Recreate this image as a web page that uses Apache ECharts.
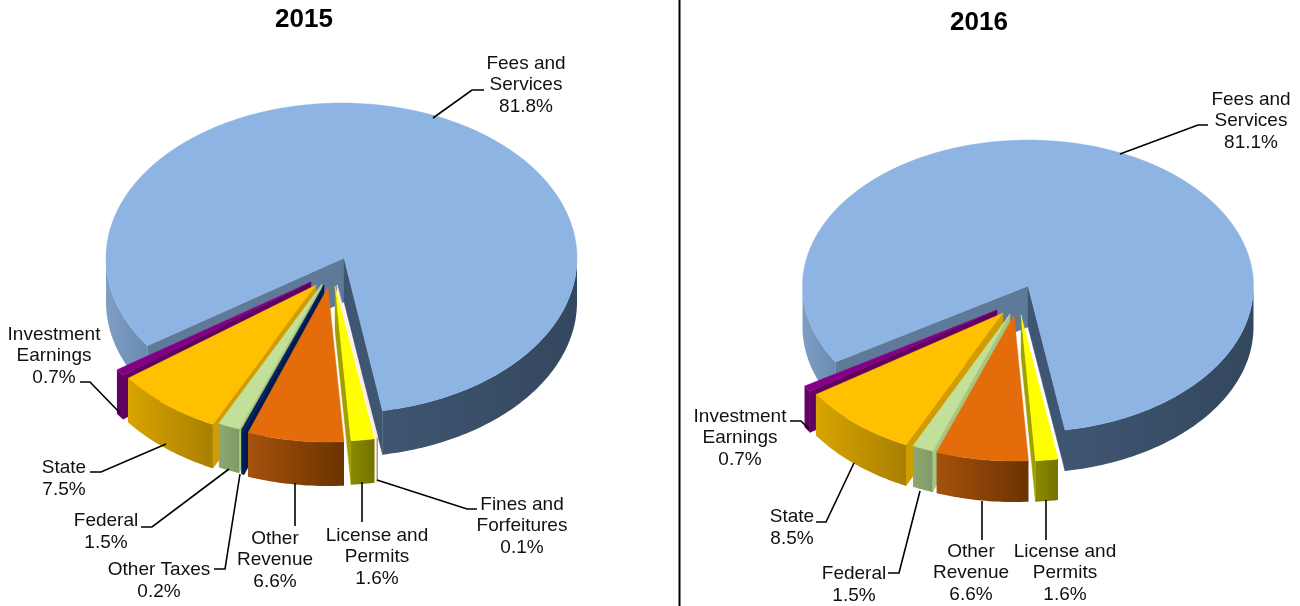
<!DOCTYPE html>
<html>
<head>
<meta charset="utf-8">
<style>html,body{margin:0;padding:0;background:#fff}#c{width:1300px;height:606px}</style>
<script src="https://cdn.jsdelivr.net/npm/echarts@6/dist/echarts.min.js"></script>
</head>
<body>
<div id="c"></div>
<script>
// ---- data ----
const categories2015 = ['Fees and\nServices','Fines and\nForfeitures','License and\nPermits','Other\nRevenue','Other Taxes','Federal','State','Investment\nEarnings'];
const values2015 = [81.8, 0.1, 1.6, 6.6, 0.2, 1.5, 7.5, 0.7];
const categories2016 = ['Fees and\nServices','License and\nPermits','Other\nRevenue','Federal','State','Investment\nEarnings'];
const values2016 = [81.1, 1.6, 6.6, 1.5, 8.5, 0.7];
const titles = ['2015', '2016'];

// ---- styling & layout ----
const STYLE = {
  'Fees and\nServices': {top:'#8db4e3', wall:['#3f5672','#33475e'], wallL:['#7f9ec4','#6a8bb2'], cutA:'#5f7a99', cutB:'#3f5672'},
  'Fines and\nForfeitures': {top:'#f6e4e0', wall:['#b89a8c','#a88a7a'], cutA:'#d8c4bc', cutB:'#fdf5f2'},
  'License and\nPermits': {top:'#ffff00', wall:['#8a8a00','#737300'], cutA:'#a0a000', cutB:'#a0a000'},
  'Other\nRevenue': {top:'#e46c0a', wall:['#a5520d','#6b3300'], cutA:'#b85808', cutB:'#b85808'},
  'Other Taxes': {top:'#002060', wall:['#002060','#001a50'], cutA:'#001a50', cutB:'#001a50'},
  'Federal': {top:'#c3e09a', wall:['#8fa873','#7f9a64'], cutA:'#a6c682', cutB:'#a6c682'},
  'State': {top:'#ffc000', wall:['#d9a400','#a87f00'], cutA:'#d09c00', cutB:'#d09c00'},
  'Investment\nEarnings': {top:'#860086', wall:['#6a006a','#5c005c'], cutA:'#60005f', cutB:'#60005f'}
};
const PIES = [
  {title:{x:304,y:20,size:26}, cx:341.5, cy:258, a:235.5, b:155, depth:44, start:145.5,
   names:categories2015, values:values2015,
   apexDx:{'Fees and\nServices':2.5},
   explode:{'Fees and\nServices':[0,0],'Fines and\nForfeitures':[-4.5,27],'License and\nPermits':[-6.5,28],'Other\nRevenue':[-13.5,29],'Other Taxes':[-17.5,27],'Federal':[-19.5,26],'State':[-25.5,27],'Investment\nEarnings':[-30.5,24]},
   labels:{
    'Fees and\nServices':{x:526,y:85,line:[[433,118],[472,90],[484,90]]},
    'Fines and\nForfeitures':{x:522,y:526,line:[[377,480],[467,509],[477,509]]},
    'License and\nPermits':{x:377,y:557,line:[[362,482],[362,522]]},
    'Other\nRevenue':{x:275,y:560,line:[[295,483],[295,526]]},
    'Other Taxes':{x:159,y:581,line:[[240,474],[225,569],[214,569]]},
    'Federal':{x:106,y:532,line:[[229,469],[152,527],[141,527]]},
    'State':{x:64,y:479,line:[[166,444],[101,472],[90,472]]},
    'Investment\nEarnings':{x:54,y:356,line:[[120,413],[90,382],[80,382]]}
   }},
  {title:{x:979,y:23,size:26}, cx:1028, cy:286, a:225.5, b:146, depth:41, start:148.6,
   names:categories2016, values:values2016,
   apexDx:{},
   explode:{'Fees and\nServices':[0,0],'License and\nPermits':[-7,29],'Other\nRevenue':[-14,29],'Federal':[-18,28],'State':[-25,27],'Investment\nEarnings':[-31,24]},
   labels:{
    'Fees and\nServices':{x:1251,y:121,line:[[1120,154],[1198,125],[1208,125]]},
    'License and\nPermits':{x:1065,y:573,line:[[1046,500],[1046,540]]},
    'Other\nRevenue':{x:971,y:573,line:[[982,501],[982,540]]},
    'Federal':{x:854,y:585,line:[[920,491],[899,573],[888,573]]},
    'State':{x:792,y:528,line:[[854,463],[826,522],[816,522]]},
    'Investment\nEarnings':{x:740,y:438,line:[[809,429],[801,421],[790,421]]}
   }}
];
const FONT = '19px "Liberation Sans", Arial, sans-serif';
const rad = d => d * Math.PI / 180;

function hGrad(c) {
  return {type:'linear', x:0, y:0, x2:1, y2:0, colorStops:[{offset:0,color:c[0]},{offset:1,color:c[1]}]};
}
function makeRenderer(pie, idx, t0) {
  return function (params, api) {
    const name = pie.names[idx];
    const sweep = api.value(0) * 3.6;
    const t1 = t0 + sweep;
    const off = pie.explode[name];
    const st = STYLE[name];
    const ox = pie.cx + off[0], oy = pie.cy + off[1];
    const P = (t, dz) => [ox + pie.a * Math.cos(rad(t)), oy + pie.b * Math.sin(rad(t)) + (dz || 0)];
    const arc = (a0, a1, dz) => {
      const n = Math.max(2, Math.ceil(a1 - a0)), out = [];
      for (let k = 0; k <= n; k++) out.push(P(a0 + (a1 - a0) * k / n, dz));
      return out;
    };
    const kids = [];
    const poly = (points, fill) => kids.push({type:'polygon', shape:{points},
      style:{fill, stroke:typeof fill === 'string' ? fill : 'none', lineWidth:typeof fill === 'string' ? 0.4 : 0}});
    const adx = pie.apexDx[name] || 0;
    const apex = [ox + adx, oy], apexB = [ox + adx, oy + pie.depth];
    if (Math.cos(rad(t0)) < 0) poly([apex, P(t0), P(t0, pie.depth), apexB], st.cutA);
    if (Math.cos(rad(t1)) > 0) poly([apex, P(t1), P(t1, pie.depth), apexB], st.cutB);
    for (let m = 0; m <= 1; m++) {
      const a0 = Math.max(t0, 360 * m), a1 = Math.min(t1, 180 + 360 * m);
      if (a1 > a0) {
        const colors = (st.wallL && (a0 + a1) / 2 > 90 && (a0 + a1) / 2 < 270) ? st.wallL : st.wall;
        poly(arc(a0, a1, 0).concat(arc(a0, a1, pie.depth).reverse()), hGrad(colors));
      }
    }
    poly([apex].concat(arc(t0, t1, 0)), st.top);
    return {type:'group', children:kids};
  };
}
function labelRenderer(pie) {
  return function (params, api) {
    const name = pie.names[params.dataIndex];
    const lab = pie.labels[name];
    return {type:'group', children:[
      {type:'polyline', shape:{points:lab.line}, style:{stroke:'#000', lineWidth:1.6, fill:'none'}},
      {type:'text', style:{x:lab.x, y:lab.y, text:name + '\n' + api.value(0).toFixed(1) + '%',
        font:FONT, fill:'#111', align:'center', verticalAlign:'middle', lineHeight:21.7}}
    ]};
  };
}

const series = [];
PIES.forEach(p => {
  let acc = p.start;
  p.values.forEach((v, i) => {
    const t0 = acc; acc += v * 3.6;
    const mid = ((t0 + acc) / 2) % 360;
    series.push({type:'custom', coordinateSystem:'none', clip:false, silent:true,
      name:p.names[i], z:2 + (200 - Math.abs(mid - 90)) / 10,
      renderItem:makeRenderer(p, i, t0), data:[{value:[v]}]});
  });
  series.push({type:'custom', coordinateSystem:'none', clip:false, silent:true, z:100,
    renderItem:labelRenderer(p), data:p.values.map(v => ({value:[v]}))});
});

const chart = echarts.init(document.getElementById('c'), null, {renderer:'canvas'});
chart.setOption({
  animation:false,
  backgroundColor:'#fff',
  title: PIES.map((p, i) => ({text:titles[i], left:p.title.x, top:p.title.y, padding:0, textAlign:'center', textVerticalAlign:'middle',
    textStyle:{fontFamily:'"Liberation Sans", Arial, sans-serif', fontWeight:'bold', fontSize:p.title.size, color:'#000'}})),
  graphic:[{type:'line', shape:{x1:679.5, y1:0, x2:679.5, y2:606}, style:{stroke:'#000', lineWidth:2}}],
  series
});
</script>
</body>
</html>
